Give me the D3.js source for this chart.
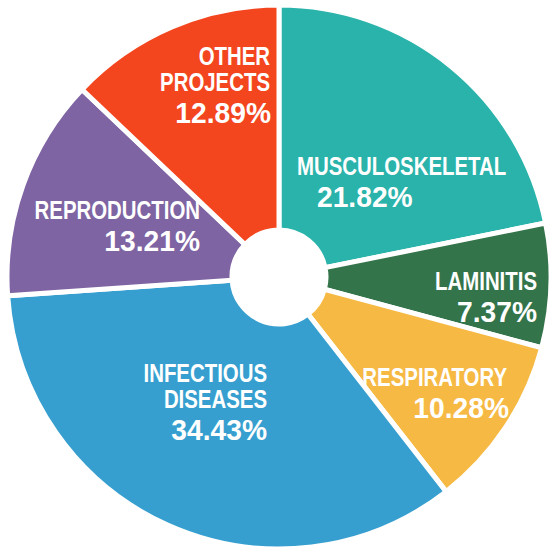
<!DOCTYPE html>
<html>
<head>
<meta charset="utf-8">
<script src="https://cdn.jsdelivr.net/npm/d3@7"></script>
<style>
  body { margin: 0; background: #fff; }
  .label { font-family: "Liberation Sans", Arial, sans-serif; font-weight: bold; fill: #fff; }
</style>
</head>
<body>
<div id="chart"></div>
<script>

// data
var categories = ['MUSCULOSKELETAL', 'LAMINITIS', 'RESPIRATORY', 'INFECTIOUS DISEASES', 'REPRODUCTION', 'OTHER PROJECTS'];
var shares = [21.82, 7.37, 10.28, 34.43, 13.21, 12.89];
var colours = ['#29b3aa', '#33744a', '#f6b944', '#379fcf', '#7e64a2', '#f3461f'];

// label lines for each slice (split as in the picture)
var labelLines = [['MUSCULOSKELETAL'], ['LAMINITIS'], ['RESPIRATORY'], ['INFECTIOUS', 'DISEASES'], ['REPRODUCTION'], ['OTHER', 'PROJECTS']];

// where each label block sits: x, baseline of first line, anchor, x of the value line
var labelLayout = [
  {x: 297, y: 175, anchor: 'start', vx: 317},
  {x: 537, y: 290, anchor: 'end', vx: 537},
  {x: 507, y: 385.5, anchor: 'end', vx: 509},
  {x: 267, y: 381.5, anchor: 'end', vx: 267},
  {x: 200, y: 219, anchor: 'end', vx: 200},
  {x: 270, y: 64.5, anchor: 'end', vx: 271}
];

var width = 551, height = 553;
var cx = 279, cy = 277;
var outerR = 272, innerR = 47;

var svg = d3.select('#chart').append('svg')
    .attr('width', width)
    .attr('height', height);

var g = svg.append('g')
    .attr('transform', 'translate(' + cx + ',' + cy + ')');

var pie = d3.pie().sort(null).value(function(d) { return d; });
var arc = d3.arc().innerRadius(innerR).outerRadius(outerR);

g.selectAll('.slice')
    .data(pie(shares))
    .enter()
    .append('path')
    .attr('class', 'slice')
    .attr('d', arc)
    .attr('fill', function(d, i) { return colours[i]; })
    .attr('stroke', '#fff')
    .attr('stroke-width', 5)
    .attr('stroke-linejoin', 'miter');

// inner white circle
g.append('circle').attr('r', innerR).attr('fill', '#fff');

// condensed look: squeeze regular bold text horizontally
function addText(x, y, anchor, size, sx, t) {
  svg.append('text')
      .attr('class', 'label')
      .attr('transform', 'translate(' + x + ',' + y + ') scale(' + sx + ',1)')
      .attr('text-anchor', anchor)
      .style('font-size', size + 'px')
      .text(t);
}

var lineStep = 26.5;
categories.forEach(function(c, i) {
  var lay = labelLayout[i];
  var lines = labelLines[i];
  lines.forEach(function(t, j) {
    addText(lay.x, lay.y + j * lineStep, lay.anchor, 25.5, 0.8, t);
  });
  addText(lay.vx, lay.y + (lines.length - 1) * lineStep + 32, lay.anchor, 30, 0.94, shares[i].toFixed(2) + '%');
});

</script>
</body>
</html>
